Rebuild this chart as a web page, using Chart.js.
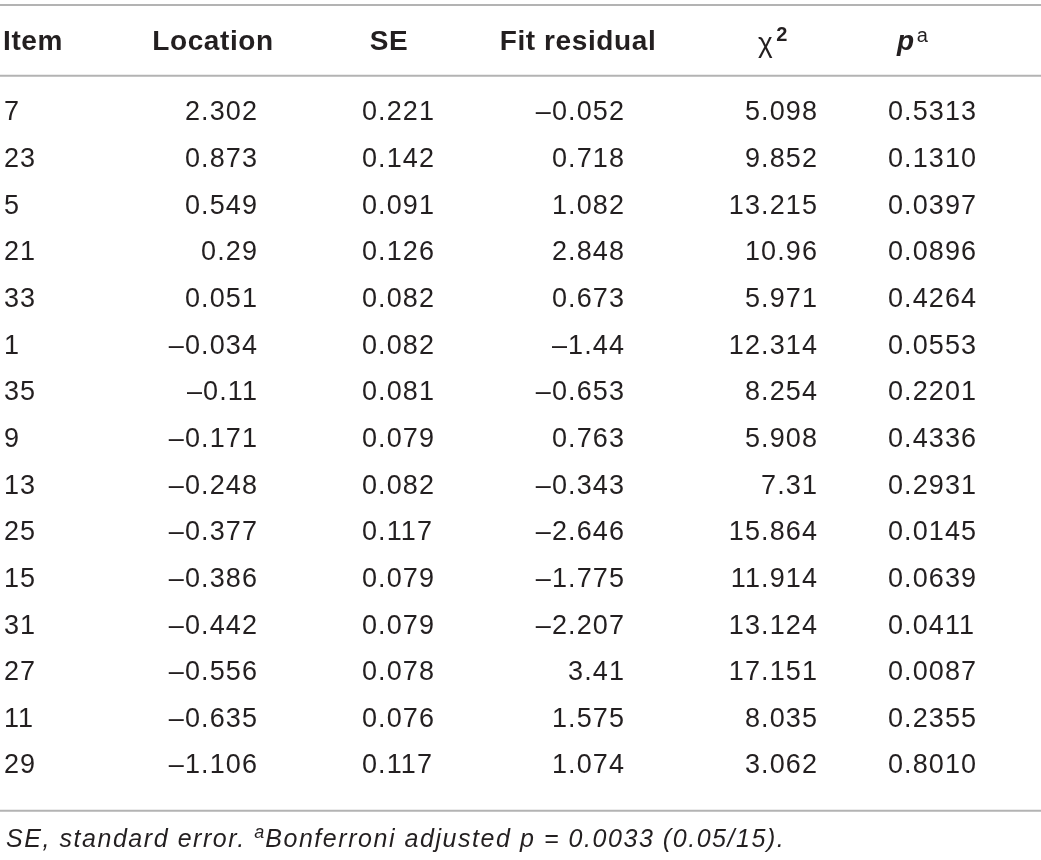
<!DOCTYPE html>
<html>
<head>
<meta charset="utf-8">
<title>Item fit statistics</title>
<script src="https://cdn.jsdelivr.net/npm/chart.js@4/dist/chart.umd.min.js"></script>
<style>
  html, body { margin: 0; padding: 0; background: #fff; }
  #wrap { width: 1041px; height: 860px; position: relative; }
</style>
</head>
<body>
<div id="wrap"><canvas id="tbl"></canvas></div>
<script>
// table data
const items       = ['7', '23', '5', '21', '33', '1', '35', '9', '13', '25', '15', '31', '27', '11', '29'];
const location_   = ['2.302', '0.873', '0.549', '0.29', '0.051', '–0.034', '–0.11', '–0.171', '–0.248', '–0.377', '–0.386', '–0.442', '–0.556', '–0.635', '–1.106'];
const se          = ['0.221', '0.142', '0.091', '0.126', '0.082', '0.082', '0.081', '0.079', '0.082', '0.117', '0.079', '0.079', '0.078', '0.076', '0.117'];
const fitResidual = ['–0.052', '0.718', '1.082', '2.848', '0.673', '–1.44', '–0.653', '0.763', '–0.343', '–2.646', '–1.775', '–2.207', '3.41', '1.575', '1.074'];
const chiSq       = ['5.098', '9.852', '13.215', '10.96', '5.971', '12.314', '8.254', '5.908', '7.31', '15.864', '11.914', '13.124', '17.151', '8.035', '3.062'];
const pValues     = ['0.5313', '0.1310', '0.0397', '0.0896', '0.4264', '0.0553', '0.2201', '0.4336', '0.2931', '0.0145', '0.0639', '0.0411', '0.0087', '0.2355', '0.8010'];
const headers     = ['Item', 'Location', 'SE', 'Fit residual', 'χ', 'p'];
const footnote    = 'SE, standard error. ';
const footnote2   = 'Bonferroni adjusted p = 0.0033 (0.05/15).';

// column layout: anchor on the x scale (0..1041) and alignment
const colAnchor = [4, 258, 362, 625, 818, 888];
const colAlign  = ['left', 'right', 'left', 'right', 'right', 'left'];
const headAnchor = [3, 213, 389, 578, 758, 897];
const headAlign  = ['left', 'center', 'center', 'center', 'left', 'left'];

const columns = [items, location_, se, fitResidual, chiSq, pValues];

const BODY = '27px "Liberation Sans", Arial, sans-serif';
const HEAD = 'bold 28px "Liberation Sans", Arial, sans-serif';
const TEXT = '#231f20';
const RULE = '#b3b3b3';
const FOOT = 'italic 25px "Liberation Sans", Arial, sans-serif';

const tablePlugin = {
  id: 'tablePlugin',
  afterDraw(chart) {
    const ctx = chart.ctx;
    const x = chart.scales.x, y = chart.scales.y;
    const band = y.getPixelForValue(1) - y.getPixelForValue(0);
    const W = chart.width;
    ctx.save();

    // rules
    const rule = (yy) => {
      ctx.strokeStyle = RULE;
      ctx.lineWidth = 2;
      ctx.beginPath();
      ctx.moveTo(0, yy);
      ctx.lineTo(W, yy);
      ctx.stroke();
    };
    const first = y.getPixelForValue(0);
    const last = y.getPixelForValue(items.length - 1);
    rule(first - 1.5 * band - 37);
    rule(first - 0.78 * band);
    rule(last + 0.98 * band);

    // header
    const hy = first - 1.5 * band;
    ctx.fillStyle = TEXT;
    ctx.textBaseline = 'middle';
    ctx.letterSpacing = '0.6px';
    headers.forEach((h, i) => {
      const hx = x.getPixelForValue(headAnchor[i]);
      ctx.textAlign = headAlign[i];
      if (i === 5) {
        ctx.font = 'italic bold 28px "Liberation Sans", Arial, sans-serif';
        ctx.fillText(h, hx, hy);
        const w = ctx.measureText(h).width;
        ctx.font = '20px "Liberation Sans", Arial, sans-serif';
        ctx.fillText('a', hx + w + 2, hy - 6);
      } else if (i === 4) {
        ctx.font = '28px "Liberation Sans", Arial, sans-serif';
        ctx.fillText(h, hx, hy + 2);
        const w = ctx.measureText(h).width;
        ctx.font = 'bold 20px "Liberation Sans", Arial, sans-serif';
        ctx.fillText('2', hx + w + 3, hy - 7);
      } else {
        ctx.font = HEAD;
        ctx.fillText(h, hx, hy);
      }
    });

    // body cells
    ctx.font = BODY;
    ctx.letterSpacing = '1.1px';
    items.forEach((_, r) => {
      const ry = y.getPixelForValue(r) + 1;
      columns.forEach((col, c) => {
        ctx.textAlign = colAlign[c];
        ctx.fillText(col[r], x.getPixelForValue(colAnchor[c]), ry);
      });
    });

    // footnote
    const fy = last + 0.98 * band + 29;
    ctx.textAlign = 'left';
    ctx.letterSpacing = '1.55px';
    ctx.font = FOOT;
    ctx.fillText(footnote, 6, fy);
    let fx = 6 + ctx.measureText(footnote).width;
    ctx.letterSpacing = '0px';
    ctx.font = 'italic 18px "Liberation Sans", Arial, sans-serif';
    ctx.fillText('a', fx, fy - 7);
    fx += ctx.measureText('a').width + 1;
    ctx.letterSpacing = '1.55px';
    ctx.font = FOOT;
    ctx.fillText(footnote2, fx, fy);

    ctx.restore();
  }
};

new Chart(document.getElementById('tbl'), {
  type: 'scatter',
  data: {
    labels: items,
    datasets: [{ data: [], pointRadius: 0 }]
  },
  options: {
    responsive: true,
    maintainAspectRatio: false,
    animation: false,
    events: [],
    layout: { padding: { top: 88.7, bottom: 71.7, left: 0, right: 0 } },
    plugins: { legend: { display: false }, tooltip: { enabled: false } },
    scales: {
      x: { type: 'linear', min: 0, max: 1041, display: false },
      y: { type: 'category', labels: items, offset: true, display: false }
    }
  },
  plugins: [tablePlugin]
});
</script>
</body>
</html>
